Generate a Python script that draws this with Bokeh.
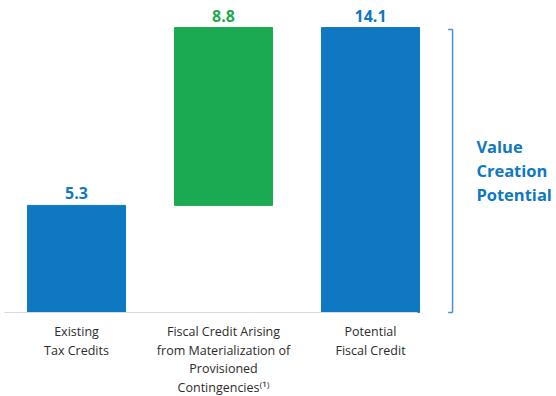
from bokeh.plotting import figure
from bokeh.models import ColumnDataSource, Range1d
from bokeh.core.properties import value
from bokeh.embed import file_html
from bokeh.resources import INLINE

categories = ["Existing\nTax Credits",
              "Fiscal Credit Arising\nfrom Materialization of\nProvisioned\nContingencies\u207d\u00b9\u207e",
              "Potential\nFiscal Credit"]
bottoms = [0.0, 5.3, 0.0]
tops = [5.3, 14.1, 14.1]
value_labels = ["5.3", "8.8", "14.1"]
bar_colors = ["#0F78C2", "#1BAA52", "#0F78C2"]
side_label = "Value\nCreation\nPotential"

BLUE = "#0F78C2"
xs = list(range(len(categories)))

p = figure(width=556, height=396, output_backend="svg", toolbar_location=None,
           x_range=Range1d(-0.517, 3.265), y_range=Range1d(-4.157, 15.44),
           min_border=0, outline_line_color=None)
p.axis.visible = False
p.grid.visible = False
p.background_fill_color = "white"

src = ColumnDataSource(dict(x=xs, bottom=bottoms, top=tops, color=bar_colors,
                            lab=value_labels, cat=categories, zero=[0.0] * len(xs)))
p.vbar(x="x", width=0.667, bottom="bottom", top="top", color="color", source=src)

# baseline
p.segment(x0=[-0.49], y0=[0], x1=[2.32], y1=[0], line_color="#D9D9D9", line_width=1.2)

# value labels
p.text(x="x", y="top", text="lab", source=src, text_color="color",
       text_align="center", text_baseline="alphabetic", y_offset=-12,
       text_font=value("Open Sans"), text_font_style="bold", text_font_size="16px")

# category labels
p.text(x="x", y="zero", text="cat", source=src, text_color="#2B2B2B",
       text_align="center", text_baseline="top", y_offset=11, text_line_height=1.08,
       text_font=value("Open Sans"), text_font_size="12.5px")

# bracket
bx = 2.558
p.segment(x0=[bx], y0=[0], x1=[bx], y1=[14.0], line_color="#4A8FD6", line_width=1.5)
p.segment(x0=[bx - 0.03, bx - 0.03], y0=[0, 14.0], x1=[bx, bx], y1=[0, 14.0],
          line_color="#4A8FD6", line_width=1.5)

p.text(x=[2.72], y=[7.03], text=[side_label], text_color=BLUE, text_align="left",
       text_baseline="middle", text_line_height=1.06,
       text_font=value("Open Sans"), text_font_style="bold", text_font_size="16.5px")

open("out.html", "w").write(file_html(p, INLINE))
